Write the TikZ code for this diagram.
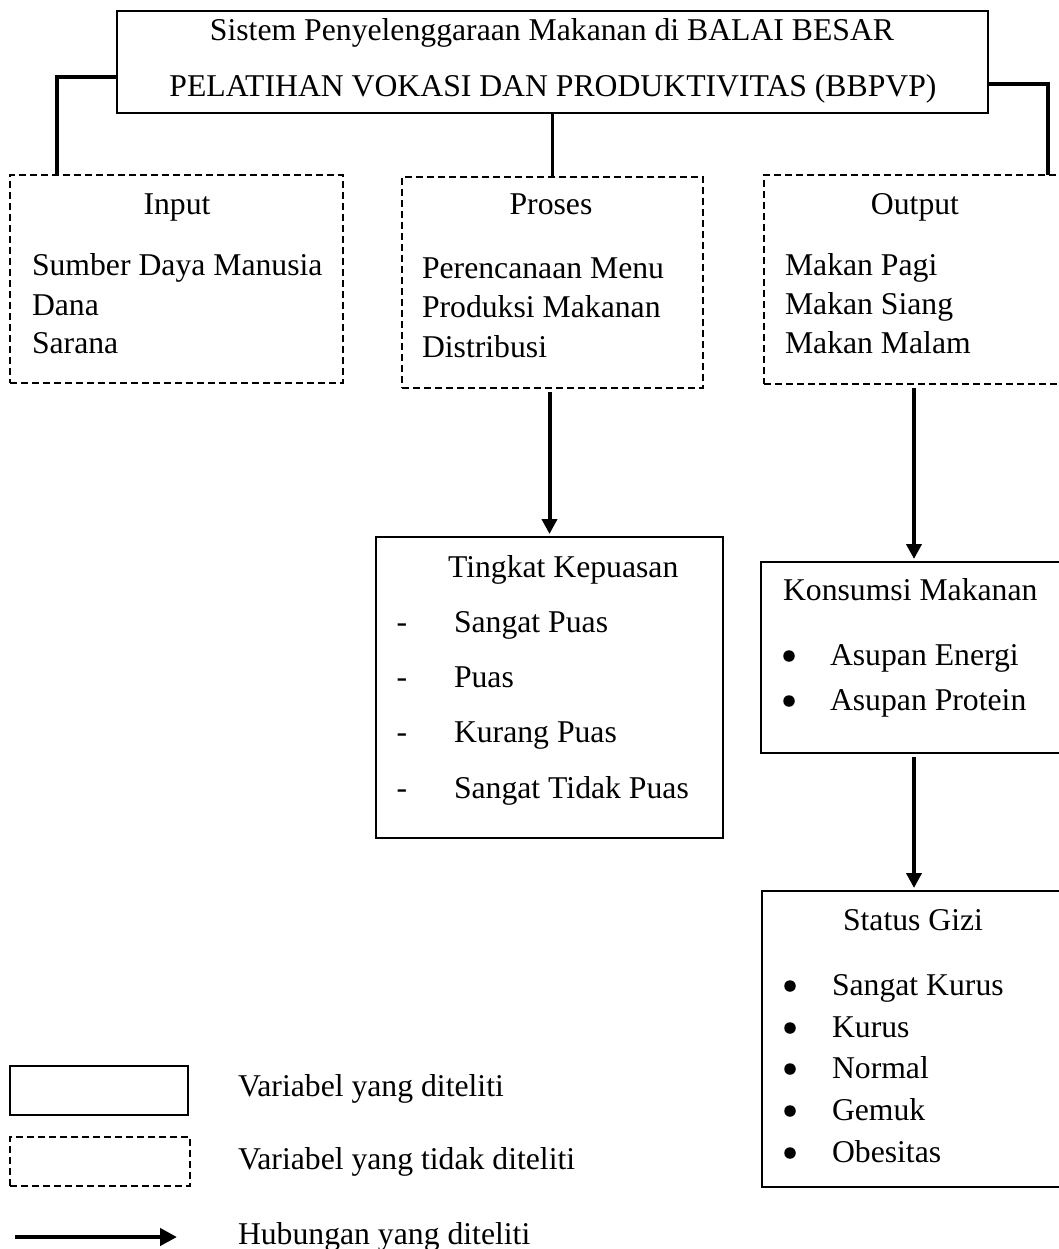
\documentclass[tikz,border=0pt]{standalone}
\usepackage{fontspec}
\setmainfont{Liberation Serif}
\usetikzlibrary{arrows.meta}
\begin{document}
\begin{tikzpicture}[x=1pt,y=-1pt,
  every node/.style={font=\fontsize{31.7}{38}\selectfont, inner sep=0pt, outer sep=0pt},
  solidbox/.style={draw, line width=1.8pt, rectangle, anchor=north west},
  dashbox/.style={draw, line width=1.5pt, dash pattern=on 7pt off 4pt, rectangle, anchor=north west},
  conn/.style={line width=3.8pt},
  arr/.style={line width=4pt, -{Triangle[length=15pt,width=15pt]}, shorten <=4pt, shorten >=3pt},
  legarr/.style={line width=4.5pt, -{Triangle[length=17pt,width=17pt]}},
  txt/.style={anchor=base west},
  ctxt/.style={anchor=base},
  dot/.style={circle, fill, minimum size=11.5pt}]
\clip (0,0) rectangle (1059,1249);
\fill[white] (0,0) rectangle (1059,1249);

% boxes
\node[solidbox, line width=2.2pt, minimum width=871pt, minimum height=102pt] (top) at (117,11) {};
\node[dashbox, minimum width=333pt, minimum height=208pt] (input) at (10,175) {};
\node[dashbox, minimum width=301pt, minimum height=211pt] (proses) at (402,177) {};
\node[dashbox, minimum width=300pt, minimum height=209pt] (output) at (764,175) {};
\node[solidbox, minimum width=347pt, minimum height=301pt] (tingkat) at (376,537) {};
\node[solidbox, minimum width=303pt, minimum height=191pt] (kons) at (761,562) {};
\node[solidbox, minimum width=302pt, minimum height=296pt] (status) at (762,891) {};
\node[solidbox, minimum width=178pt, minimum height=49pt] (legsolid) at (10,1066) {};
\node[dashbox, minimum width=180pt, minimum height=49pt] (legdash) at (10,1137) {};

% top texts
\node[ctxt] (t1) at (552,41) {Sistem Penyelenggaraan Makanan di BALAI BESAR};
\node[ctxt] (t2) at (553,97) {PELATIHAN VOKASI DAN PRODUKTIVITAS (BBPVP)};

% input
\node[ctxt] (inT) at (177,215) {Input};
\node[txt] (in1) at (32,275) {Sumber Daya Manusia};
\node[txt] (in2) at (32,315) {Dana};
\node[txt] (in3) at (32,353) {Sarana};

% proses
\node[ctxt] (prT) at (551,215) {Proses};
\node[txt] (pr1) at (422,278) {Perencanaan Menu};
\node[txt] (pr2) at (422,317) {Produksi Makanan};
\node[txt] (pr3) at (422,357) {Distribusi};

% output
\node[ctxt] (ouT) at (915,215) {Output};
\node[txt] (ou1) at (785,275) {Makan Pagi};
\node[txt] (ou2) at (785,314) {Makan Siang};
\node[txt] (ou3) at (785,353) {Makan Malam};

% tingkat kepuasan
\node[txt] (tkT) at (448,577) {Tingkat Kepuasan};
\node[ctxt] (tkd1) at (402,632) {-};
\node[ctxt] (tkd2) at (402,687) {-};
\node[ctxt] (tkd3) at (402,742) {-};
\node[ctxt] (tkd4) at (402,798) {-};
\node[txt] (tk1) at (454,632) {Sangat Puas};
\node[txt] (tk2) at (454,687) {Puas};
\node[txt] (tk3) at (454,742) {Kurang Puas};
\node[txt] (tk4) at (454,798) {Sangat Tidak Puas};

% konsumsi
\node[txt] (koT) at (783,600) {Konsumsi Makanan};
\node[dot] (kob1) at (789,656) {};
\node[dot] (kob2) at (789,701) {};
\node[txt] (ko1) at (830,665) {Asupan Energi};
\node[txt] (ko2) at (830,710) {Asupan Protein};

% status gizi
\node[ctxt] (sgT) at (913,930) {Status Gizi};
\node[dot] (sgb1) at (790,986) {};
\node[dot] (sgb2) at (790,1028) {};
\node[dot] (sgb3) at (790,1069) {};
\node[dot] (sgb4) at (790,1111) {};
\node[dot] (sgb5) at (790,1153) {};
\node[txt] (sg1) at (832,995) {Sangat Kurus};
\node[txt] (sg2) at (832,1037) {Kurus};
\node[txt] (sg3) at (832,1078) {Normal};
\node[txt] (sg4) at (832,1120) {Gemuk};
\node[txt] (sg5) at (832,1162) {Obesitas};

% legend texts
\node[txt] (lg1) at (238,1096) {Variabel yang diteliti};
\node[txt] (lg2) at (238,1169) {Variabel yang tidak diteliti};
\node[txt] (lg3) at (238,1244) {Hubungan yang diteliti};

% connectors
\coordinate (lk) at (57,77);
\coordinate (rk) at (1048,84);
\draw[conn] (top.west |- lk) -| (input.north -| lk);
\draw[conn] (top.east |- rk) -| (output.north -| rk);
\draw[conn] (top.south) -- (proses.north);

% arrows
\draw[arr] (proses.south -| tingkat.north) -- (tingkat.north);
\draw[arr] (output.south) -- (output.south |- kons.north);
\draw[arr] (kons.south -| output.south) -- (status.north -| output.south);

% legend arrow
\coordinate (la1) at (15,1237);
\coordinate (la2) at (177,1237);
\draw[legarr] (la1) -- (la2);
\end{tikzpicture}
\end{document}
